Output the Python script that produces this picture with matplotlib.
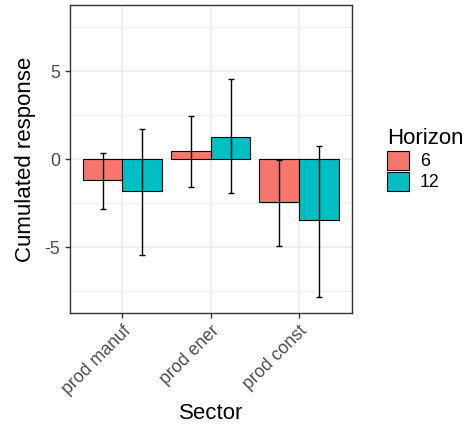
from matplotlib import pyplot as plt
from matplotlib.patches import Patch
import numpy as np

plt.rcParams['font.family'] = ['Liberation Sans', 'DejaVu Sans']
plt.rcParams['axes.unicode_minus'] = False

# Data
sectors = ['prod manuf', 'prod ener', 'prod const']
horizons = ['6', '12']
resp_6 = [-1.21, 0.44, -2.46]
lo_6 = [-2.84, -1.57, -4.96]
hi_6 = [0.36, 2.46, -0.06]
resp_12 = [-1.80, 1.27, -3.47]
lo_12 = [-5.44, -1.93, -7.82]
hi_12 = [1.69, 4.53, 0.76]

colors = ['#F8766D', '#00BFC4']

fig = plt.figure(figsize=(4.71, 4.34), dpi=100)
ax = fig.add_axes([69.5/471, 1-313/434, (352-69.5)/471, (313-5)/434])

x = np.arange(1, len(sectors)+1)
w = 0.45
series = [(resp_6, lo_6, hi_6), (resp_12, lo_12, hi_12)]
for i, (r, lo, hi) in enumerate(series):
    pos = x + (i - 0.5) * w
    r = np.array(r)
    ax.bar(pos, r, width=w, color=colors[i], edgecolor='black', linewidth=0.8, zorder=3)
    err = [r - np.array(lo), np.array(hi) - r]
    ax.errorbar(pos, r, yerr=err, fmt='none', ecolor='black', elinewidth=1.0,
                capsize=2.5, capthick=1.0, zorder=4)

ax.set_xlim(0.4, 3.6)
ax.set_ylim(-8.75, 8.75)
ax.set_xticks(x)
ax.set_xticklabels(sectors, rotation=45, ha='right', rotation_mode='anchor')
ax.set_yticks([-5, 0, 5])
ax.set_yticks([-7.5, -2.5, 2.5, 7.5], minor=True)
ax.grid(True, which='major', color='#EBEBEB', linewidth=1.1, zorder=0)
ax.grid(True, which='minor', axis='y', color='#EBEBEB', linewidth=0.55, zorder=0)
ax.set_axisbelow(True)
ax.tick_params(which='major', direction='out', length=3.5, width=1.0, color='#333333',
               labelsize=12.8, labelcolor='#4D4D4D', pad=3)
ax.tick_params(which='minor', length=0)
for s in ax.spines.values():
    s.set_color('#333333')
    s.set_linewidth(1.0)

ax.set_xlabel('Sector', fontsize=16, labelpad=4)
ax.set_ylabel('Cumulated response', fontsize=16, labelpad=6)

handles = [Patch(facecolor=c, edgecolor='black', linewidth=0.8) for c in colors]
leg = fig.legend(handles, horizons, title='Horizon', loc='upper left',
                 bbox_to_anchor=(371/471, 1-112/434), frameon=False,
                 fontsize=12.8, title_fontsize=16, handlelength=1.25, handleheight=1.25,
                 labelspacing=0.1, handletextpad=0.6, alignment='left')

plt.savefig('out.png', dpi=100)
